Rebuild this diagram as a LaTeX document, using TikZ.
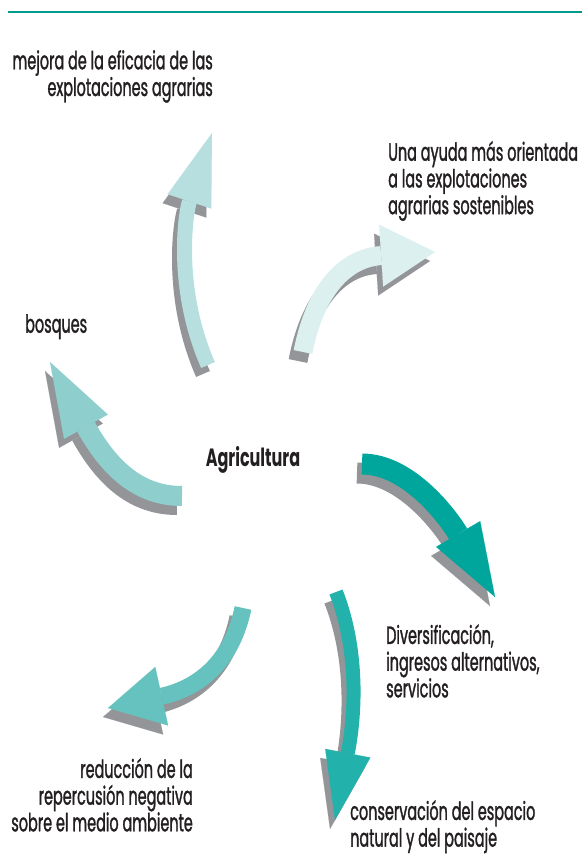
\documentclass[tikz,border=0pt]{standalone}
\usepackage{fontspec}
\setmainfont{Poppins}
\newfontfamily\lblfont[FakeStretch=0.577,FakeBold=1.2]{Poppins}
\newfontfamily\boldlbl[FakeStretch=0.64]{Poppins}
\usetikzlibrary{arrows.meta}
\definecolor{topline}{HTML}{009B8F}
\definecolor{shadowgray}{HTML}{939598}
\definecolor{cA}{HTML}{B8DFDF}
\definecolor{cB}{HTML}{DDF0F0}
\definecolor{cC}{HTML}{8ECFCE}
\definecolor{cD}{HTML}{00A69C}
\definecolor{cE}{HTML}{66C2BE}
\definecolor{cF}{HTML}{22B2AB}
\definecolor{txt}{HTML}{231F20}
\newcommand\shadedarrow[5]{%
  \draw[shadowgray, transform canvas={xshift=-5pt,yshift=-9pt}, line width=#2,
        -{Triangle[length=#3,width=#4,line width=0.1pt]}] #5;
  \draw[#1, line width=#2, -{Triangle[length=#3,width=#4,line width=0.1pt]}] #5;}
\begin{document}
\begin{tikzpicture}[x=1pt,y=-1pt,
  lbl/.style={inner sep=0pt, text=txt, font=\lblfont\fontsize{25}{26.7}\selectfont}]
\useasboundingbox (0,0) rectangle (582,861);
\coordinate (L0) at (8,12);
\coordinate (L1) at (582,12);
\draw[topline, line width=2.4pt] (L0) -- (L1);

% labels
\node[lbl, anchor=north east, align=right] (t1) at (213,50) {mejora de la eficacia de las\\explotaciones agrarias};
\node[lbl, anchor=north west, align=left] (t2) at (388,141) {Una ayuda más orientada\\a las explotaciones\\agrarias sostenibles};
\node[lbl, anchor=north west] (t3) at (25,314) {bosques};
\node[lbl, anchor=base, font=\boldlbl\fontsize{25}{26.7}\selectfont\bfseries] (t0) at (253,466) {Agricultura};
\node[lbl, anchor=north west, align=left] (t4) at (386,624) {Diversificación,\\ingresos alternativos,\\servicios};
\node[lbl, anchor=north east, align=right] (t5) at (193,758) {reducción de la\\repercusión negativa\\sobre el medio ambiente};
\node[lbl, anchor=north west, align=left] (t6) at (350,800) {conservación del espacio\\natural y del paisaje};

% arrow end points
\coordinate (a1s) at (208,365); \coordinate (a1e) at (212,133);
\coordinate (a2s) at (303,352); \coordinate (a2e) at (435,252);
\coordinate (a3s) at (182,496); \coordinate (a3e) at (50,362);
\coordinate (a4s) at (362,464); \coordinate (a4e) at (495,597);
\coordinate (a5s) at (243,608); \coordinate (a5e) at (108,708);
\coordinate (a6s) at (336,592); \coordinate (a6e) at (335,820);

\shadedarrow{cA}{15pt}{72pt}{46pt}{(a1s) .. controls (175,290) and (185,215) .. (a1e)}
\shadedarrow{cB}{19pt}{54pt}{62pt}{(a2s) .. controls (315,290) and (345,258) .. (a2e)}
\shadedarrow{cC}{20pt}{74pt}{50pt}{(a3s) .. controls (140,496) and (110,470) .. (a3e)}
\shadedarrow{cD}{21pt}{73pt}{51pt}{(a4s) .. controls (410,464) and (450,520) .. (a4e)}
\shadedarrow{cE}{17pt}{55pt}{60pt}{(a5s) .. controls (230,670) and (190,690) .. (a5e)}
\shadedarrow{cF}{14pt}{68pt}{46pt}{(a6s) .. controls (355,640) and (358,700) .. (a6e)}
\end{tikzpicture}
\end{document}
